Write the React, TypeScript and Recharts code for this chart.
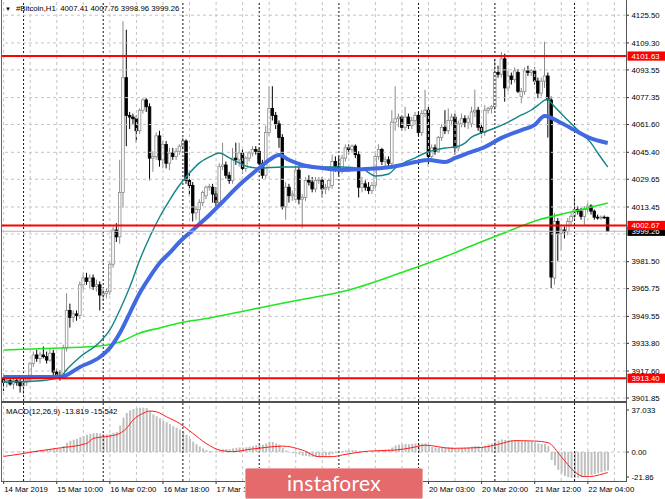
import React from "react";
import { ComposedChart, Bar, Line, XAxis, YAxis, ReferenceLine } from "recharts";

type Candle = [number, number, number, number]; // open, high, low, close

const FONT = "Tahoma, 'Liberation Sans', Arial, sans-serif";

// H1 candles, one array per day (14 Mar 18:00 .. 22 Mar 10:00)
const day14: Candle[] = [
  [3913, 3916, 3906, 3911], [3911, 3914, 3908, 3912], [3912, 3915, 3909, 3910],
  [3910, 3913, 3907, 3912], [3912, 3914, 3909, 3911], [3911, 3913, 3905, 3909],
];
const day15: Candle[] = [
  [3909, 3912, 3904, 3911], [3911, 3914, 3909, 3913], [3913, 3923, 3911, 3922], [3922, 3929, 3920, 3927],
  [3927, 3930, 3923, 3925], [3925, 3929, 3922, 3927], [3927, 3932, 3925, 3926], [3926, 3929, 3922, 3924],
  [3924, 3931, 3923, 3928], [3928, 3930, 3915, 3917], [3917, 3919, 3913, 3915], [3915, 3918, 3912, 3914],
  [3915, 3933, 3913, 3931], [3931, 3963, 3929, 3953], [3953, 3957, 3943, 3949], [3949, 3953, 3946, 3951],
  [3951, 3953, 3947, 3950], [3950, 3970, 3948, 3968], [3968, 3975, 3965, 3972], [3972, 3975, 3968, 3970],
  [3970, 3974, 3966, 3972], [3972, 3974, 3965, 3967], [3967, 3971, 3964, 3968], [3968, 3970, 3953, 3962],
];
const day16: Candle[] = [
  [3962, 3966, 3959, 3963], [3963, 3966, 3960, 3964], [3964, 3981, 3962, 3980], [3980, 4002, 3978, 4000],
  [4000, 4004, 3993, 3996], [3996, 4041, 3992, 4022], [4022, 4122, 4013, 4089], [4089, 4117, 4049, 4067],
  [4067, 4069, 4059, 4066], [4066, 4068, 4062, 4065], [4065, 4067, 4051, 4058], [4058, 4071, 4056, 4070],
  [4070, 4077, 4068, 4076], [4076, 4077, 4069, 4072], [4072, 4074, 4029, 4042], [4042, 4046, 4034, 4043],
  [4043, 4057, 4041, 4055], [4055, 4058, 4037, 4041], [4041, 4052, 4036, 4050], [4050, 4052, 4036, 4039],
  [4039, 4048, 4035, 4045], [4045, 4048, 4041, 4043], [4043, 4048, 4041, 4046], [4046, 4050, 4044, 4049],
];
const day17: Candle[] = [
  [4049, 4054, 4047, 4052], [4052, 4053, 4027, 4029], [4029, 4035, 4020, 4026], [4026, 4028, 4005, 4010],
  [4010, 4014, 4006, 4012], [4012, 4018, 4004, 4016], [4016, 4023, 4014, 4022], [4020, 4026, 4018, 4025],
  [4025, 4027, 4023, 4025.5], [4025, 4027, 4016, 4021], [4021, 4025, 4014, 4016], [4016, 4039, 4015, 4037],
  [4037, 4051, 4035, 4038], [4038, 4040, 4030, 4032], [4032, 4034, 4027, 4029], [4029, 4048, 4027, 4042],
  [4042, 4051, 4038, 4041], [4041, 4051, 4037, 4045], [4045, 4047, 4033, 4036], [4036, 4043, 4034, 4042],
  [4042, 4046, 4040, 4045], [4045, 4049, 4043, 4047], [4047, 4049, 4044, 4046],
];
const day18: Candle[] = [
  [4046, 4048, 4038, 4039], [4039, 4041, 4030, 4032], [4032, 4061, 4030, 4057], [4057, 4084, 4055, 4071],
  [4071, 4084, 4064, 4067], [4067, 4069, 4059, 4062], [4062, 4064, 4048, 4054], [4054, 4056, 4012, 4013.5],
  [4013.5, 4028, 4006, 4025], [4025, 4027, 4016, 4020], [4020, 4023, 4017, 4021], [4018, 4038, 4016, 4035],
  [4035, 4037, 4015, 4018], [4018, 4021, 4001, 4019], [4019, 4031, 4017, 4029], [4029, 4032, 4026, 4028],
  [4028, 4031, 4022, 4024], [4024, 4031, 4022, 4029], [4029, 4031, 4027, 4029.5], [4029, 4031, 4019, 4024],
  [4024, 4027, 4021, 4025], [4025, 4030, 4023, 4029], [4026, 4044, 4024, 4040], [4040, 4043, 4034, 4037],
];
const day19: Candle[] = [
  [4037, 4043, 4032, 4035], [4035, 4044, 4033, 4042], [4042, 4050, 4040, 4048], [4048, 4050, 4044, 4047],
  [4047, 4050, 4045, 4049], [4049, 4050, 4042, 4044], [4044, 4046, 4019, 4025], [4025, 4031, 4022, 4027],
  [4027, 4029, 4023, 4025], [4025, 4028, 4021, 4023], [4023, 4028, 4021, 4026], [4026, 4046, 4024, 4043],
  [4043, 4050, 4041, 4047], [4047, 4048, 4038, 4040], [4040, 4043, 4037, 4041], [4041, 4043, 4037, 4039],
  [4039, 4070, 4037, 4063], [4063, 4084, 4058, 4065], [4065, 4068, 4060, 4066], [4066, 4067, 4058, 4060],
  [4060, 4072, 4058, 4066], [4066, 4068, 4059, 4061], [4061, 4066, 4059, 4064], [4064, 4069, 4062, 4067],
];
const day20: Candle[] = [
  [4067, 4069, 4055, 4057], [4057, 4070, 4055, 4068], [4068, 4082, 4066, 4070], [4070, 4072, 4037, 4043],
  [4043, 4050, 4040, 4048], [4048, 4050, 4044, 4046], [4046, 4055, 4045, 4054], [4054, 4062, 4052, 4060],
  [4060, 4070, 4056, 4058], [4058, 4071, 4056, 4064], [4064, 4068, 4061, 4066], [4066, 4068, 4044, 4048],
  [4048, 4064, 4046, 4062], [4062, 4068, 4060, 4065], [4065, 4067, 4060, 4063], [4063, 4067, 4059, 4065],
  [4062, 4072, 4060, 4069], [4069, 4082, 4066, 4070], [4070, 4072, 4058, 4060], [4060, 4062, 4054, 4057],
  [4057, 4073, 4055, 4070], [4070, 4072, 4068, 4071], [4071, 4073, 4068, 4072],
];
const day21: Candle[] = [
  [4072, 4100, 4070, 4092], [4092, 4096, 4089, 4091], [4091, 4104, 4089, 4100], [4100, 4103, 4075, 4083],
  [4083, 4093, 4081, 4090], [4090, 4092, 4085, 4088], [4088, 4095, 4086, 4093], [4092, 4094, 4080, 4081],
  [4078, 4083, 4074, 4081], [4081, 4095, 4079, 4093], [4093, 4096, 4090, 4092], [4092, 4094, 4090, 4093],
  [4093, 4095, 4085, 4087], [4087, 4089, 4077, 4080], [4080, 4089, 4078, 4087], [4087, 4110, 4083, 4090],
  [4090, 4092, 4054, 4076], [4076, 4078, 3966, 3972.5], [3972, 4010, 3968, 4005], [4005, 4007, 3982, 3998],
  [3998, 4002, 3988, 4000], [4000, 4002, 3995, 3999], [3999, 4007, 3997, 4005], [4005, 4010, 4003, 4008],
];
const day22: Candle[] = [
  [4008, 4020, 4006, 4012], [4012, 4014, 4009, 4011], [4011, 4013, 4006, 4008], [4008, 4014, 4003, 4012],
  [4012, 4016, 4010, 4014], [4014, 4015, 4009, 4011], [4011, 4012, 4006, 4007.5], [4007.5, 4009, 4006, 4007],
  [4007, 4008.5, 4006, 4007.5], [4007.5, 4008.5, 4006.5, 4007.41], [4007.41, 4007.76, 3998.96, 3999.26],
];

// moving averages: [bar index, price]
const maTeal: [number, number][] = [
  [0, 3911.2], [10, 3911.8], [17, 3914.1], [19, 3918.5], [23, 3925.8], [29, 3934.6], [32, 3941.6],
  [35, 3953.3], [38, 3966.7], [41, 3982.5], [44, 3995.9], [47, 4007.6], [50, 4017.5], [53, 4026.3],
  [56, 4033.3], [59, 4039.2], [62, 4042.7], [65, 4045], [68, 4042.1], [71, 4039.2], [74, 4036.8],
  [77, 4036.2], [84, 4036.8], [90, 4036.8], [102, 4036.8], [108, 4035.7], [112, 4031.6], [116, 4032.7],
  [118, 4036.2], [121, 4039.7], [124, 4042.1], [127, 4045], [130, 4046.8], [133, 4047.9], [136, 4048.5],
  [139, 4050.8], [141, 4054.3], [144, 4056.7], [148, 4059.6], [152, 4063.1], [156, 4067.2], [159, 4070.1],
  [161, 4073], [164, 4076.5], [165, 4074.2], [169, 4066], [173, 4058.4], [177, 4050.8], [179, 4045],
  [182, 4036.8],
];
const maBlue: [number, number][] = [
  [0, 3914.1], [17, 3914.1], [23, 3920], [29, 3925.8], [32, 3931.1], [35, 3939.8], [38, 3951.5],
  [41, 3963.2], [44, 3972.5], [47, 3980.7], [50, 3986.6], [53, 3993], [56, 3998.3], [59, 4003.5],
  [62, 4008.8], [65, 4014.6], [71, 4026.3], [77, 4036.2], [80, 4040.9], [83, 4043.8], [86, 4040.9],
  [90, 4038], [96, 4036.2], [102, 4035.1], [109, 4035.7], [114, 4036.2], [120, 4038], [124, 4039.7],
  [128, 4040.9], [133, 4039.7], [136, 4042.1], [140, 4045], [145, 4048.5], [150, 4053.8], [156, 4058.4],
  [160, 4061.4], [163, 4066.6], [168, 4062.5], [172, 4058.4], [176, 4054.3], [182, 4050.8],
];
const maGreen: [number, number][] = [
  [0, 3929.9], [17, 3931.1], [29, 3932.2], [35, 3934.6], [41, 3939.8], [47, 3942.8], [53, 3945.7],
  [62, 3948.6], [74, 3953.3], [89, 3959.1], [104, 3964.9], [122, 3976.6], [132, 3983.7], [143, 3992.4],
  [153, 4000], [161, 4005.8], [171, 4010.5], [182, 4015.8],
];

// MACD(12,26,9) main values, per day
const histDay14 = [0.2, 0.3, 0.3, 0.4, 0.4, 0.5];
const histDay15 = [0.5, 0.6, 0.8, 1.0, 1.3, 1.5, 1.6, 1.7, 1.8, 2.2, 2.5, 3.0,
  4.5, 7, 8.5, 9.3, 10, 11.2, 12.2, 13, 13.8, 14.2, 14.3, 14.0];
const histDay16 = [13.5, 13.2, 13.6, 14.5, 15.2, 20, 26, 29.5, 31.5, 32.5, 33.2, 33.5,
  33.6, 33.2, 31, 28.5, 27, 25.5, 23.5, 22.5, 21, 19.5, 18.5, 17];
const histDay17 = [15.5, 13, 10, 7.8, 6, 4.2, 2.8, 1.5, 0.8, 0.5, 0.6, 1.5,
  2, 2.2, 2.2, 2.8, 3.2, 3.5, 3.4, 3.6, 4, 4.5, 5.2];
const histDay18 = [5.5, 5.6, 6.5, 7.8, 7.5, 6.5, 5.5, 3, 1.2, 0, -1, -1.2,
  -2, -2.8, -3, -3.4, -3.6, -3.6, -3.4, -3.2, -2.8, -2.4, -1.5, -0.8];
const histDay19 = [0, 0.6, 1.2, 1.4, 1.5, 1.3, 0.5, 0.2, 0.2, 0, 0.2, 0.8,
  1.5, 1.6, 1.8, 2, 3.5, 5, 5.6, 5.8, 6, 6, 6.2, 6.5];
const histDay20 = [6.2, 6.4, 6.6, 4.5, 3.8, 3.4, 3.4, 3.6, 3.5, 3.6, 3.6, 2.4,
  2.6, 3.1, 3.3, 3.6, 4, 4.6, 4.4, 4, 5, 5.8, 6.5];
const histDay21 = [8, 8.6, 9.5, 9.2, 9, 9, 9.2, 8.8, 8, 8.3, 8.2, 8,
  7.4, 6.5, 6.2, 6, 4.5, -6, -10, -13.5, -16, -18, -19, -19.5];
const histDay22 = [-19.6, -19.4, -19, -18.5, -17.8, -17.2, -16.6, -16, -15.2, -14.5, -13.819];

const macdSignal: [number, number][] = [
  [0, -3.3], [5, -1.5], [8, -0.2], [16, 2.8], [25, 6.5], [27, 10.3], [32, 12.1], [35, 14.1],
  [37, 17.9], [39, 24.2], [42, 29.2], [44, 31], [46, 30.4], [49, 26.7], [53, 21.6], [57, 14.1],
  [61, 6.5], [65, 1.5], [69, 0.3], [74, 2], [79, 3.5], [84, 4.5], [90, 1.5], [95, -3.5],
  [99, -3.5], [102, -2.2], [106, -0.5], [110, 0.7], [118, 1.5], [123, 3.3], [127, 5.2], [135, 2.8],
  [144, 3.5], [149, 5.8], [154, 8.6], [160, 8.3], [164, 7.1], [168, -3.5], [172, -14.8], [175, -18.6],
  [178, -18.1], [181, -16.1], [182, -15.542],
];

const priceTicks = [4125.5, 4109.3, 4093.55, 4077.35, 4061.6, 4045.4, 4029.65, 4013.45,
  3981.5, 3965.75, 3949.55, 3933.8, 3917.6, 3901.85];
const hiddenGridPrices = [3997.7];
const levels = [4101.63, 4002.67, 3913.4];
const bidPrice = 3999.26;
const macdTicks = [37.033, 0, -21.86];
const macdTickText = ["37.033", "0.00", "-21.86"];
// labels under the watermark (18 Mar, 19 Mar) are not visible in the source
const timeLabels = ["14 Mar 2019", "15 Mar 10:00", "16 Mar 02:00", "16 Mar 18:00", "17 Mar 10:00",
  "20 Mar 03:00", "20 Mar 20:00", "21 Mar 12:00", "22 Mar 04:00"];
const labelBars = [0, 16, 32, 48, 64, 128, 144, 160, 176];
const separatorBars = [6, 30, 54, 77, 101, 125, 148, 172];
const gridBars = [0, 8, 16, 24, 32, 40, 48, 56, 64, 72, 80, 88, 96, 104, 112, 120, 128, 136, 144,
  152, 160, 168, 176, 184];

const candles: Candle[] = [...day14, ...day15, ...day16, ...day17, ...day18, ...day19, ...day20, ...day21, ...day22];
const hist = [...histDay14, ...histDay15, ...histDay16, ...histDay17, ...histDay18, ...histDay19,
  ...histDay20, ...histDay21, ...histDay22];
const SHIFT = 5; // empty bars at the right edge (chart shift)

const tealMap = new Map(maTeal);
const blueMap = new Map(maBlue);
const greenMap = new Map(maGreen);
const signalMap = new Map(macdSignal);

const rows = Array.from({ length: candles.length + SHIFT }, (_, i) => {
  const c = candles[i];
  return {
    i,
    ohlc: c,
    range: c ? [c[2], c[1]] : null,
    teal: tealMap.get(i) ?? null,
    blue: blueMap.get(i) ?? null,
    green: greenMap.get(i) ?? null,
    hist: hist[i] ?? null,
    signal: signalMap.get(i) ?? null,
  };
});

const last = candles[candles.length - 1];

const CandleShape = (props: any) => {
  const { x, y, width, height, payload } = props;
  const c: Candle | undefined = payload?.ohlc;
  if (!c || !Number.isFinite(y)) return <g />;
  const [o, h, l, cl] = c;
  const top = Math.min(y, y + height);
  const span = Math.abs(height);
  const k = span / (h - l);
  const cx = x + width / 2;
  const yO = top + (h - o) * k;
  const yC = top + (h - cl) * k;
  const up = cl >= o;
  const col = up ? "#8a8a8a" : "#000000";
  return (
    <g>
      <line x1={cx} x2={cx} y1={top} y2={top + span} stroke={col} strokeWidth={1} />
      <rect
        x={cx - 1.3}
        y={Math.min(yO, yC)}
        width={2.6}
        height={Math.max(Math.abs(yC - yO), 0.8)}
        fill={up ? "#ffffff" : "#000000"}
        stroke={col}
        strokeWidth={0.8}
      />
    </g>
  );
};

const PriceTick = ({ x, y, payload }: any) => (
  <g>
    <line x1={x} x2={x + 3} y1={y} y2={y} stroke="#333" />
    <text x={x + 5.5} y={y} dy="0.36em" fontSize={7.8} fontFamily={FONT} fill="#000">
      {Number(payload.value).toFixed(2)}
    </text>
  </g>
);

const MacdTick = ({ x, y, payload }: any) => {
  const idx = macdTicks.indexOf(payload.value);
  const shift = idx === 0 ? 7 : idx === 2 ? -4 : 0;
  return (
    <g>
      <line x1={x} x2={x + 3} y1={y + shift} y2={y + shift} stroke="#333" />
      <text x={x + 5.5} y={y + shift} dy="0.36em" fontSize={7.8} fontFamily={FONT} fill="#000">
        {macdTickText[idx]}
      </text>
    </g>
  );
};

const TimeTick = ({ x, y, payload }: any) => {
  const idx = labelBars.indexOf(payload.value);
  return (
    <g>
      <line x1={x} x2={x} y1={y} y2={y + 3} stroke="#333" />
      <text x={x + 0.5} y={y + 8} dy="0.36em" fontSize={7.8} fontFamily={FONT} fill="#000">
        {timeLabels[idx]}
      </text>
    </g>
  );
};

const PriceTag = ({ viewBox, text, bg, fg }: any) => {
  if (!viewBox) return null;
  const right = viewBox.x + viewBox.width;
  return (
    <g>
      <rect x={right + 1.5} y={viewBox.y - 4.6} width={38} height={9.2} fill={bg} />
      <text x={right + 5.5} y={viewBox.y} dy="0.36em" fontSize={7.8} fontFamily={FONT} fill={fg}>
        {text}
      </text>
    </g>
  );
};

const gridLines = (withPrices: boolean) => [
  ...gridBars.map((b) => (
    <ReferenceLine key={`g${b}`} x={b} stroke="#c4c4c4" strokeDasharray="3 3" />
  )),
  ...separatorBars.map((b) => (
    <ReferenceLine key={`s${b}`} x={b} stroke="#111" strokeDasharray="2 2" />
  )),
  ...(withPrices
    ? [...priceTicks, ...hiddenGridPrices].map((p) => (
        <ReferenceLine key={`p${p}`} y={p} stroke="#c4c4c4" strokeDasharray="3 3" />
      ))
    : []),
];

export default function App() {
  return (
    <div
      style={{
        position: "absolute",
        left: 0,
        top: 0,
        width: 665,
        height: 499,
        background: "#fff",
        overflow: "hidden",
        fontFamily: FONT,
      }}
    >
      <div style={{ position: "absolute", left: 0, top: 0 }}>
        <ComposedChart
          width={665}
          height={402}
          data={rows}
          margin={{ top: 1, right: 0, bottom: 1, left: 2 }}
          barCategoryGap={0}
          barGap={0}
        >
          <XAxis dataKey="i" type="category" hide />
          <YAxis
            orientation="right"
            type="number"
            domain={[3900.1, 4133.8]}
            ticks={priceTicks}
            interval={0}
            width={39}
            axisLine={false}
            tickLine={false}
            tickSize={0}
            tickMargin={0}
            tick={PriceTick}
            allowDataOverflow
          />
          {gridLines(true)}
          <Bar dataKey="range" shape={CandleShape} isAnimationActive={false} />
          <Line dataKey="green" stroke="#22e622" strokeWidth={1.6} dot={false} connectNulls type="monotone" isAnimationActive={false} />
          <Line dataKey="teal" stroke="#138585" strokeWidth={1.4} dot={false} connectNulls type="monotone" isAnimationActive={false} />
          <Line dataKey="blue" stroke="#4169e1" strokeWidth={4} dot={false} connectNulls type="monotone" isAnimationActive={false} />
          <ReferenceLine
            y={bidPrice}
            stroke="#b8b8b8"
            label={<PriceTag text={bidPrice.toFixed(2)} bg="#000" fg="#fff" />}
          />
          {levels.map((lv) => (
            <ReferenceLine
              key={lv}
              y={lv}
              stroke="#ff0000"
              strokeWidth={2}
              label={<PriceTag text={lv.toFixed(2)} bg="#ff0000" fg="#fff" />}
            />
          ))}
        </ComposedChart>
      </div>

      <div style={{ position: "absolute", left: 0, top: 402 }}>
        <ComposedChart
          width={665}
          height={97}
          data={rows}
          margin={{ top: 1, right: 0, bottom: 0, left: 2 }}
          barCategoryGap={0}
          barGap={0}
        >
          <XAxis
            dataKey="i"
            type="category"
            ticks={labelBars}
            interval={0}
            height={18}
            axisLine={false}
            tickLine={false}
            tickSize={0}
            tickMargin={0}
            tick={TimeTick}
          />
          <YAxis
            orientation="right"
            type="number"
            domain={[-21.86, 37.033]}
            ticks={macdTicks}
            interval={0}
            width={39}
            axisLine={false}
            tickLine={false}
            tickSize={0}
            tickMargin={0}
            tick={MacdTick}
            allowDataOverflow
          />
          {gridLines(false)}
          <ReferenceLine y={0} stroke="#c4c4c4" strokeDasharray="3 3" />
          <Bar dataKey="hist" fill="#c0c0c0" barSize={2} isAnimationActive={false} />
          <Line dataKey="signal" stroke="#ff1a1a" strokeWidth={1} dot={false} connectNulls type="monotone" isAnimationActive={false} />
        </ComposedChart>
      </div>

      {/* panel frame */}
      <div style={{ position: "absolute", left: 1, top: 0, width: 1, height: 482, background: "#666" }} />
      <div style={{ position: "absolute", left: 626, top: 0, width: 1, height: 482, background: "#555" }} />
      <div style={{ position: "absolute", left: 1, top: 401, width: 626, height: 2, background: "#505050" }} />
      <div style={{ position: "absolute", left: 1, top: 481, width: 626, height: 1, background: "#555" }} />

      <div style={{ position: "absolute", left: 5, top: 3, fontSize: 7.8, lineHeight: "11px", whiteSpace: "nowrap", color: "#000" }}>
        <span style={{ fontSize: 6, marginRight: 5 }}>▼</span>
        #Bitcoin,H1&nbsp;&nbsp;{last.map((v) => v.toFixed(2)).join(" ")}
      </div>
      <div style={{ position: "absolute", left: 6, top: 406, fontSize: 7.8, lineHeight: "11px", whiteSpace: "nowrap", color: "#000" }}>
        MACD(12,26,9) {hist[hist.length - 1].toFixed(3)} {macdSignal[macdSignal.length - 1][1].toFixed(3)}
      </div>

      <div
        style={{
          position: "absolute",
          left: 245,
          top: 468,
          width: 176,
          height: 29,
          background: "#e46a6c",
          border: "1px solid #f0a5a5",
          borderRadius: 2,
          color: "#fff",
          fontFamily: "Lato, 'Open Sans', sans-serif",
          fontSize: 21,
          lineHeight: "28px",
          textAlign: "center",
          letterSpacing: 0.3,
        }}
      >
        instaforex
      </div>
    </div>
  );
}
